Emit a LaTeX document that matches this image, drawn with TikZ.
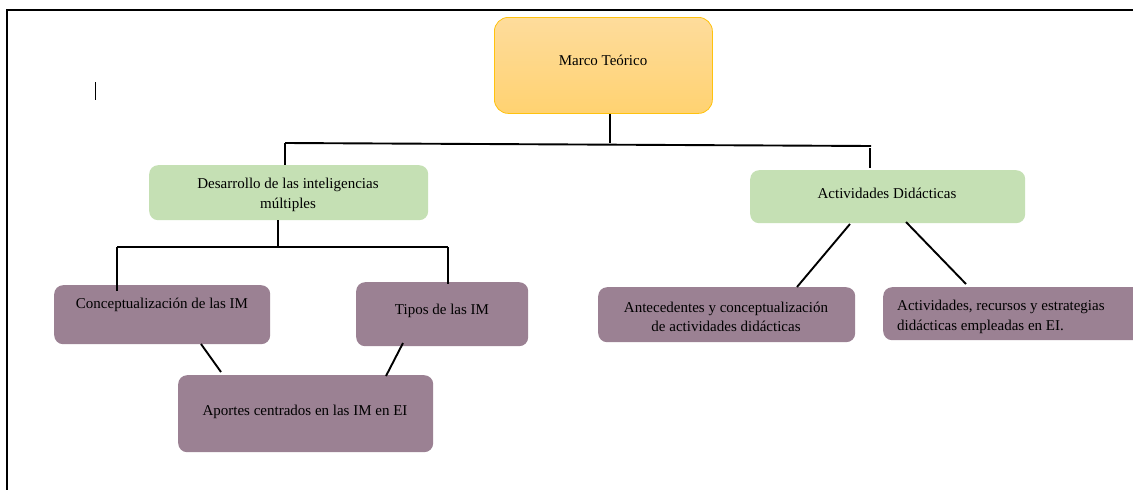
\documentclass[tikz,border=0pt]{standalone}
\usepackage{fontspec}
\setmainfont{Liberation Serif}
\definecolor{orgtop}{HTML}{FEDC9C}
\definecolor{orgbot}{HTML}{FFD271}
\definecolor{orgline}{HTML}{FFC20E}
\definecolor{grn}{HTML}{C5E0B4}
\definecolor{prp}{HTML}{9B8193}
\begin{document}
\begin{tikzpicture}[x=1pt,y=-1pt,
  conn/.style={line width=1.9pt,black},
  frame/.style={line width=1.9pt,black},
  boxbase/.style={rectangle,rounded corners=9pt,inner sep=0pt,anchor=north west},
  topbox/.style={boxbase,top color=orgtop,bottom color=orgbot,draw=orgline,line width=0.8pt,rounded corners=14pt},
  gbox/.style={boxbase,fill=grn},
  pbox/.style={boxbase,fill=prp},
  txt/.style={font=\fontsize{15}{19.5}\selectfont,align=center,inner sep=0pt}
]
\useasboundingbox (0,0) rectangle (1133,490);
\fill[white] (0,0) rectangle (1133,490);
% frame
\draw[frame] (6,10) -- (1140,10);
\draw[frame] (7,10) -- (7,495);
\draw[line width=1pt] (95,82) -- (95,100);
% boxes
\node[topbox,minimum width=218pt,minimum height=96pt] (mt) at (494,17) {};
\node[txt] (mtt) at (603,60) {Marco Teórico};
\node[gbox,minimum width=279pt,minimum height=55pt] (dim) at (149,165) {};
\node[txt] (dimt) at (288,195) {Desarrollo de las inteligencias\\múltiples};
\node[gbox,minimum width=275pt,minimum height=53pt] (ad) at (750,170) {};
\node[txt] (adt) at (887,193) {Actividades Didácticas};
\node[pbox,minimum width=216pt,minimum height=59pt] (cim) at (54,285) {};
\node[txt] (cimt) at (162,305) {Conceptualización de las IM};
\node[pbox,minimum width=172pt,minimum height=64pt] (tim) at (356,282) {};
\node[txt] (timt) at (442,311) {Tipos de las IM};
\node[pbox,minimum width=255pt,minimum height=77pt] (apo) at (178,375) {};
\node[txt] (apot) at (305,412) {Aportes centrados en las IM en EI};
\node[pbox,minimum width=257pt,minimum height=55pt] (ant) at (598,287) {};
\node[txt] (antt) at (726,317) {Antecedentes y conceptualización\\de actividades didácticas};
\node[pbox,minimum width=270pt,minimum height=53pt] (arc) at (883,287) {};
\node[txt,align=left,anchor=west] (arct) at (897,317) {Actividades, recursos y estrategias\\didácticas empleadas en EI.};
% connectors
\coordinate (j1) at (610,143);
\coordinate (l1) at (285,143);
\coordinate (r1) at (871,146);
\draw[conn] (mt.south -| j1) -- (j1);
\draw[conn] (l1) -- (r1);
\draw[conn] (l1) -- (l1 |- dim.north);
\draw[conn] (870,148) -- (870,168);
\coordinate (j2) at (278,247);
\coordinate (l2) at (117,247);
\coordinate (r2) at (448,247);
\draw[conn] (dim.south -| j2) -- (j2);
\draw[conn] (l2) -- (r2);
\draw[conn] (l2) -- (117,291);
\draw[conn] (r2) -- (448,284);
\draw[conn] (201,344) -- (221,372);
\draw[conn] (403,343) -- (386,376);
\draw[conn] (850,224) -- (797,287);
\draw[conn] (906,222) -- (966,284);
\end{tikzpicture}
\end{document}
